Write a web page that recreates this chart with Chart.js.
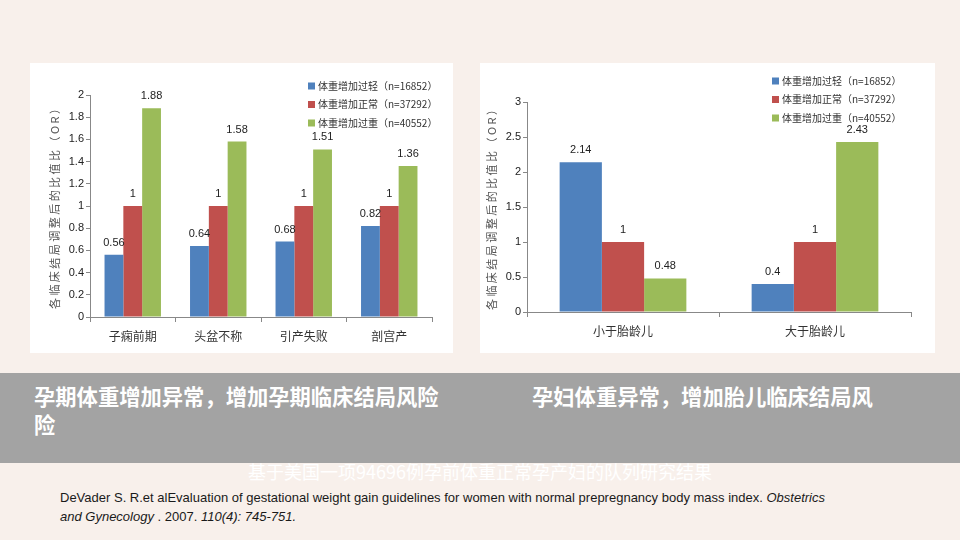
<!DOCTYPE html>
<html lang="zh">
<head>
<meta charset="UTF-8">
<title>孕期体重增加与临床结局</title>
<script src="https://cdn.jsdelivr.net/npm/chart.js"></script>
<style>
    body { margin: 0; width: 960px; height: 540px; background: #f8f0eb; position: relative; overflow: hidden; font-family: "Noto Sans CJK SC", sans-serif; }
    .panel { position: absolute; background: #ffffff; }
    #band { position: absolute; left: 0; top: 373px; width: 960px; height: 90px; background: #a3a3a3; }
    .head { position: absolute; color: #ffffff; font-weight: bold; font-size: 21.3px; line-height: 28px; }
    #sub { position: absolute; left: 0; width: 960px; top: 458px; text-align: center; color: #ffffff; font-size: 18px; }
    #cite { position: absolute; left: 60px; top: 488px; font-family: "Liberation Sans", Arial, sans-serif; font-size: 13px; line-height: 19px; color: #1a1a1a; }
</style>
</head>
<body>
<div class="panel" style="left:30px;top:63px;width:423px;height:290px;">
    <canvas id="left" width="423" height="290"></canvas>
</div>
<div class="panel" style="left:480px;top:63px;width:455px;height:290px;">
    <canvas id="right" width="455" height="290"></canvas>
</div>
<div id="band"></div>
<div class="head" style="left:34px;top:382px;">孕期体重增加异常，增加孕期临床结局风险<br>险</div>
<div class="head" style="left:532px;top:382px;">孕妇体重异常，增加胎儿临床结局风</div>
<div id="sub">基于美国一项94696例孕前体重正常孕产妇的队列研究结果</div>
<div id="cite">DeVader S. R.et alEvaluation of gestational weight gain guidelines for women with normal prepregnancy body mass index. <i>Obstetrics</i><br><i>and Gynecology</i> . 2007. <i>110(4): 745-751.</i></div>

<script>
// 数据
const seriesLabels = ['体重增加过轻（n=16852）', '体重增加正常（n=37292）', '体重增加过重（n=40552）'];
const seriesColors = ['#4f81bd', '#c0504d', '#9bbb59'];
const yTitle = '各 临 床 结 局 调 整 后 的 比 值 比 （ O R ）';

const leftCategories = ['子痫前期', '头盆不称', '引产失败', '剖宫产'];
const leftLight = [0.56, 0.64, 0.68, 0.82];
const leftNormal = [1, 1, 1, 1];
const leftHeavy = [1.88, 1.58, 1.51, 1.36];
const leftMax = 2, leftStep = 0.2;

const rightCategories = ['小于胎龄儿', '大于胎龄儿'];
const rightLight = [2.14, 0.4];
const rightNormal = [1, 1];
const rightHeavy = [0.48, 2.43];
const rightMax = 3, rightStep = 0.5;

// 柱顶数值
const valueLabels = {
    id: 'valueLabels',
    afterDatasetsDraw(chart) {
        const ctx = chart.ctx;
        ctx.save();
        ctx.font = '11px "Liberation Sans", Arial, sans-serif';
        ctx.fillStyle = '#222';
        ctx.textAlign = 'center';
        ctx.textBaseline = 'middle';
        chart.data.datasets.forEach((ds, i) => {
            chart.getDatasetMeta(i).data.forEach((bar, j) => {
                ctx.fillText(String(ds.data[j]), bar.x, bar.y - 12);
            });
        });
        ctx.restore();
    }
};

// 图例画在绘图区右上角
const cornerLegend = {
    id: 'cornerLegend',
    afterDraw(chart, args, opts) {
        const ctx = chart.ctx;
        ctx.save();
        ctx.font = '10px "Noto Sans CJK SC", sans-serif';
        ctx.textBaseline = 'middle';
        chart.data.datasets.forEach((ds, i) => {
            const y = opts.y + i * opts.gap;
            ctx.fillStyle = ds.backgroundColor;
            ctx.fillRect(opts.x, y - 3.5, 7, 7);
            ctx.fillStyle = '#333';
            ctx.fillText(ds.label, opts.x + 10, y);
        });
        ctx.restore();
    }
};

function makeChart(id, cats, values, max, step, dims) {
    const datasets = values.map((v, i) => ({
        label: seriesLabels[i],
        data: v,
        backgroundColor: seriesColors[i],
        categoryPercentage: 0.66,
        barPercentage: 1.0
    }));
    return new Chart(document.getElementById(id), {
        type: 'bar',
        data: { labels: cats, datasets: datasets },
        plugins: [valueLabels, cornerLegend],
        options: {
            responsive: false,
            animation: false,
            layout: { padding: { top: dims.top, right: dims.right, left: 0, bottom: 0 } },
            plugins: {
                legend: { display: false },
                tooltip: { enabled: false },
                cornerLegend: { x: dims.legendX, y: dims.legendY, gap: 18.5 }
            },
            scales: {
                x: {
                    border: { color: '#888', width: 1 },
                    grid: { offset: true, drawOnChartArea: false, drawTicks: true, tickLength: 5, color: '#888' },
                    ticks: { color: '#333', padding: 7, font: { family: '"Noto Sans CJK SC", sans-serif', size: 12 } },
                    afterFit: s => { s.height = dims.xh; }
                },
                y: {
                    min: 0,
                    max: max,
                    border: { color: '#888', width: 1 },
                    grid: { drawOnChartArea: false, drawTicks: true, tickLength: 4, color: '#888' },
                    ticks: {
                        stepSize: step,
                        color: '#222',
                        padding: 2,
                        font: { family: '"Liberation Sans", Arial, sans-serif', size: 11 },
                        callback: v => String(Number(v.toFixed(2)))
                    },
                    title: {
                        display: true,
                        text: yTitle,
                        color: '#555',
                        padding: { top: dims.titlePad, bottom: 0 },
                        font: { family: '"Noto Sans CJK SC", sans-serif', size: 11 }
                    },
                    afterFit: s => { s.width = dims.yw; }
                }
            }
        }
    });
}

makeChart('left', leftCategories, [leftLight, leftNormal, leftHeavy], leftMax, leftStep,
    { top: 32, right: 21, yw: 60, xh: 36, titlePad: 18, legendX: 278, legendY: 23 });
makeChart('right', rightCategories, [rightLight, rightNormal, rightHeavy], rightMax, rightStep,
    { top: 39, right: 24, yw: 47, xh: 41, titlePad: 5, legendX: 292, legendY: 18 });
</script>
</body>
</html>
